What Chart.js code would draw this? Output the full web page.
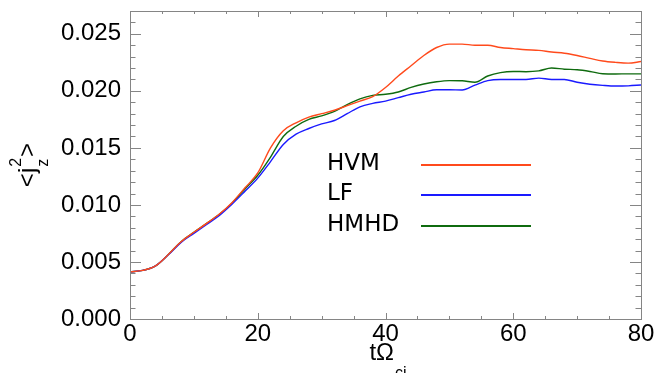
<!DOCTYPE html>
<html>
<head>
<meta charset="utf-8">
<script src="https://cdn.jsdelivr.net/npm/chart.js@4"></script>
<style>
  html,body{margin:0;padding:0;background:#fff;}
  #wrap{width:668px;height:373px;position:relative;}
</style>
</head>
<body>
<div id="wrap"><canvas id="chart"></canvas></div>
<script>
// time axis (t Omega_ci), step 2
const tValues = [0,2,4,6,8,10,12,14,16,18,20,22,24,26,28,30,32,34,36,38,40,42,44,46,48,50,52,54,56,58,60,62,64,66,68,70,72,74,76,78,80];

const hvm = [0.00413,0.00426,0.00466,0.00565,0.00678,0.00760,0.00838,0.00920,0.01022,0.01150,0.01280,0.01500,0.01650,0.01720,0.01770,0.01800,0.01830,0.01870,0.01910,0.01950,0.02030,0.02130,0.02220,0.02310,0.02380,0.02410,0.02410,0.02400,0.02400,0.02380,0.02370,0.02360,0.02355,0.02340,0.02330,0.02310,0.02285,0.02262,0.02250,0.02243,0.02257];
const lf = [0.00413,0.00426,0.00466,0.00563,0.00672,0.00750,0.00828,0.00908,0.01008,0.01120,0.01235,0.01380,0.01530,0.01620,0.01670,0.01710,0.01740,0.01800,0.01860,0.01890,0.01910,0.01940,0.01970,0.01990,0.02010,0.02010,0.02008,0.02050,0.02090,0.02100,0.02100,0.02100,0.02112,0.02100,0.02100,0.02075,0.02058,0.02048,0.02042,0.02044,0.02051];
const hmhd = [0.00413,0.00426,0.00466,0.00565,0.00678,0.00760,0.00838,0.00918,0.01018,0.01140,0.01260,0.01420,0.01600,0.01690,0.01750,0.01780,0.01820,0.01880,0.01930,0.01960,0.01970,0.01990,0.02030,0.02060,0.02080,0.02090,0.02088,0.02075,0.02130,0.02160,0.02170,0.02168,0.02175,0.02200,0.02190,0.02185,0.02170,0.02150,0.02148,0.02149,0.02149];

const seriesNames = ['HVM','LF','HMHD'];
const seriesColors = ['#ff4a1c','#1a1aff','#0f6b0f'];

const xTicks = [0,20,40,60,80];
const yTicks = [0.000,0.005,0.010,0.015,0.020,0.025];

const FONT = "'Liberation Sans', Arial, sans-serif";

function toPoints(vals){ return tValues.map((t,i)=>({x:t,y:vals[i]})); }

// frame, inward ticks, legend and axis titles
const decor = {
  id:'decor',
  afterDraw(chart){
    const ctx = chart.ctx, a = chart.chartArea;
    const xs = chart.scales.x, ys = chart.scales.y;
    ctx.save();
    ctx.strokeStyle = '#858585';
    ctx.lineWidth = 1;
    ctx.strokeRect(a.left+0.5, a.top+0.5, a.right-a.left, a.bottom-a.top);
    ctx.beginPath();
    for(let v=0; v<=80; v+=5){
      const px = Math.round(xs.getPixelForValue(v))+0.5;
      const len = v%20===0 ? 6 : 3;
      ctx.moveTo(px,a.bottom); ctx.lineTo(px,a.bottom-len);
      ctx.moveTo(px,a.top); ctx.lineTo(px,a.top+len);
    }
    for(let k=0; k<=27; k++){
      const py = Math.round(ys.getPixelForValue(k*0.001))+0.5;
      const len = k%5===0 ? 11 : 5.5;
      ctx.moveTo(a.left,py); ctx.lineTo(a.left+len,py);
      ctx.moveTo(a.right,py); ctx.lineTo(a.right-len,py);
    }
    ctx.stroke();

    // legend
    const rows = [165,195,226];
    ctx.font = "23px 'DejaVu Sans', sans-serif";
    ctx.textBaseline = 'middle';
    ctx.fillStyle = '#000';
    chart.data.datasets.forEach((ds,i)=>{
      ctx.fillText(ds.label, 327, rows[i]-1);
      ctx.strokeStyle = ds.borderColor;
      ctx.lineWidth = 2.2;
      ctx.beginPath(); ctx.moveTo(421,rows[i]); ctx.lineTo(531,rows[i]); ctx.stroke();
    });

    // x title: tΩ_ci
    ctx.textBaseline = 'alphabetic';
    const main = 't\u03A9';
    ctx.font = '24px '+FONT; const wMain = ctx.measureText(main).width;
    ctx.font = '16px '+FONT; const wSub = ctx.measureText('ci').width;
    const cx = (a.left+a.right)/2 + 2;
    const x0 = cx - (wMain+wSub)/2;
    ctx.font = '24px '+FONT; ctx.fillText(main, x0, 360);
    ctx.font = '16px '+FONT; ctx.fillText('ci', x0+wMain+1, 378);

    // y title: <j_z^2>
    ctx.save();
    ctx.translate(35, 0);
    ctx.rotate(-Math.PI/2);
    ctx.font = '24px '+FONT;
    const wLt = ctx.measureText('<j').width;
    const wGt = ctx.measureText('>').width;
    ctx.font = '16px '+FONT;
    const wS = Math.max(ctx.measureText('z').width, ctx.measureText('2').width);
    const total = wLt + wS + wGt + 2;
    const u0 = -165 - total/2;
    ctx.font = '24px '+FONT; ctx.fillText('<j', u0, 0);
    ctx.font = '16px '+FONT;
    ctx.fillText('z', u0+wLt+1, 13);
    ctx.fillText('2', u0+wLt+1, -14);
    ctx.font = '24px '+FONT; ctx.fillText('>', u0+wLt+wS+2, 0);
    ctx.restore();
    ctx.restore();
  }
};

new Chart(document.getElementById('chart'), {
  type:'line',
  data:{
    datasets:[
      {label:seriesNames[0], data:toPoints(hvm), borderColor:seriesColors[0]},
      {label:seriesNames[1], data:toPoints(lf), borderColor:seriesColors[1]},
      {label:seriesNames[2], data:toPoints(hmhd), borderColor:seriesColors[2]}
    ].map(d=>Object.assign(d,{borderWidth:1.4, pointRadius:0, cubicInterpolationMode:'monotone', fill:false}))
  },
  options:{
    responsive:true,
    maintainAspectRatio:false,
    animation:false,
    layout:{padding:{left:0, top:11, right:27, bottom:0}},
    plugins:{legend:{display:false}, tooltip:{enabled:false}},
    scales:{
      x:{
        type:'linear', min:0, max:80,
        grid:{display:false, drawTicks:false}, border:{display:false},
        afterBuildTicks(s){ s.ticks = xTicks.map(v=>({value:v})); },
        afterFit(s){ s.height = 54; s.paddingLeft = 0; s.paddingRight = 0; },
        ticks:{color:'#000', font:{family:FONT, size:24}, padding:1, maxRotation:0, callback:v=>String(v)}
      },
      y:{
        type:'linear', min:0, max:0.027,
        grid:{display:false, drawTicks:false}, border:{display:false},
        afterBuildTicks(s){ s.ticks = yTicks.map(v=>({value:v})); },
        afterFit(s){ s.width = 130; s.paddingTop = 0; s.paddingBottom = 0; },
        ticks:{color:'#000', font:{family:FONT, size:24}, padding:9, callback:v=>v.toFixed(3)}
      }
    }
  },
  plugins:[decor]
});
</script>
</body>
</html>
